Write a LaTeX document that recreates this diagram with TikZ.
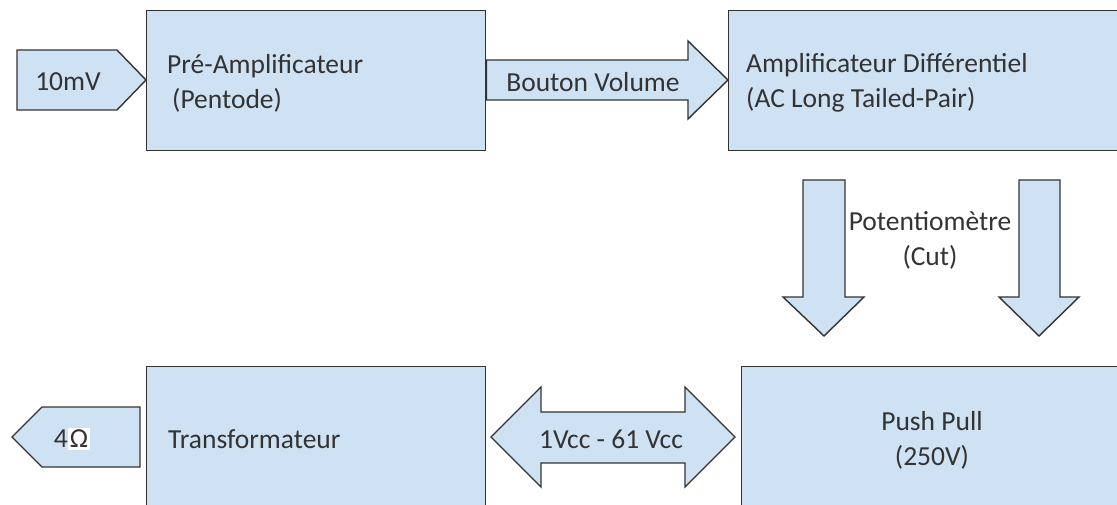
\documentclass[tikz,border=0pt]{standalone}
\usepackage{fontspec}
\setmainfont{Carlito}
\definecolor{boxfill}{HTML}{CFE2F3}
\definecolor{edgecol}{HTML}{333333}
\definecolor{txtcol}{HTML}{333333}
\begin{document}
\begin{tikzpicture}[x=1pt,y=-1pt,
  blockshape/.style={draw=edgecol, fill=boxfill, line width=1.4pt, line join=miter},
  blockbox/.style={blockshape, anchor=north west, inner sep=0pt},
  lbl/.style={text=txtcol, font=\fontsize{27.5}{35}\selectfont, inner sep=0pt}]
\useasboundingbox (0,0) rectangle (1117,505);
\begin{scope}
\clip (0,0) rectangle (1117,505);
% boxes
\node[blockbox, minimum width=339pt, minimum height=140pt] (pre) at (146,10) {};
\node[blockbox, minimum width=400pt, minimum height=140pt] (diff) at (728,10) {};
\node[blockbox, minimum width=339pt, minimum height=160pt] (trans) at (146,366) {};
\node[blockbox, minimum width=400pt, minimum height=160pt] (push) at (741,366) {};
% input pentagon
\coordinate (inA) at (17,50);
\draw[blockshape] (inA) -- (117,50) -- (pre.west |- 0,80) -- (117,110) -- (17,110) -- cycle;
\node[lbl] (in) at (68,82) {10mV};
% output pentagon
\draw[blockshape] (140,407) -- (42,407) -- (12,437) -- (42,467) -- (140,467) -- cycle;
\node[lbl] (out) at (72,439) {4\setlength{\fboxsep}{2pt}\colorbox{white}{Ω}};
% Bouton Volume arrow
\draw[blockshape] (pre.east |- 0,60) -- (688,60) -- (688,41) -- (diff.west |- 0,80) -- (688,119) -- (688,100) -- (pre.east |- 0,100) -- cycle;
\node[lbl] (vol) at (593,82) {Bouton Volume};
% down arrows
\draw[blockshape] (803,180) -- (845,180) -- (845,297) -- (864,297) -- (824,336) -- (783,297) -- (803,297) -- cycle;
\draw[blockshape] (1019,180) -- (1060,180) -- (1060,297) -- (1079,297) -- (1039,336) -- (999,297) -- (1019,297) -- cycle;
\node[lbl, align=center] (pot) at (930,240) {Potentiomètre\\(Cut)};
% double arrow
\draw[blockshape] (491,437) -- (541,387) -- (541,412) -- (685,412) -- (685,387) -- (735,437) -- (685,487) -- (685,463) -- (541,463) -- (541,487) -- cycle;
\node[lbl] (vcc) at (611,439) {1Vcc - 61 Vcc};
% texts in boxes
\node[lbl, align=left, anchor=west] (pretxt) at (167,83) {Pré-Amplificateur\\\hspace{5pt}(Pentode)};
\node[lbl, align=left, anchor=west] (difftxt) at (746,83) {Amplificateur Différentiel\\(AC Long Tailed-Pair)};
\node[lbl, anchor=west] (transtxt) at (168,439) {Transformateur};
\node[lbl, align=center] (pushtxt) at (932,440) {Push Pull\\(250V)};
\end{scope}
\end{tikzpicture}
\end{document}
